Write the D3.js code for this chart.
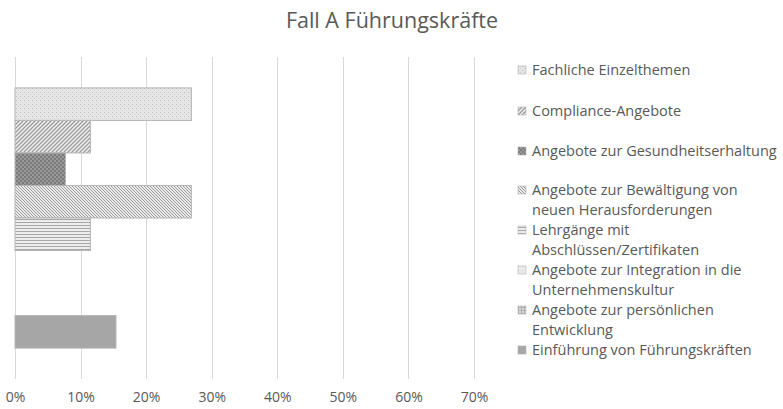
<!DOCTYPE html>
<html>
<head>
<meta charset="utf-8">
<script src="https://cdn.jsdelivr.net/npm/d3@7"></script>
<style>
  body { margin: 0; background: #fff; }
  svg { display: block; font-family: "Open Sans", "DejaVu Sans", sans-serif; }
</style>
</head>
<body>
<div class="graph"></div>
<script>
"use strict";

var categories = [
    "Fachliche Einzelthemen",
    "Compliance-Angebote",
    "Angebote zur Gesundheitserhaltung",
    "Angebote zur Bewältigung von neuen Herausforderungen",
    "Lehrgänge mit Abschlüssen/Zertifikaten",
    "Angebote zur Integration in die Unternehmenskultur",
    "Angebote zur persönlichen Entwicklung",
    "Einführung von Führungskräften"
];
var legendLines = [
    ["Fachliche Einzelthemen"],
    ["Compliance-Angebote"],
    ["Angebote zur Gesundheitserhaltung"],
    ["Angebote zur Bewältigung von", "neuen Herausforderungen"],
    ["Lehrgänge mit", "Abschlüssen/Zertifikaten"],
    ["Angebote zur Integration in die", "Unternehmenskultur"],
    ["Angebote zur persönlichen", "Entwicklung"],
    ["Einführung von Führungskräften"]
];
var values = [0.269, 0.115, 0.077, 0.269, 0.115, 0, 0, 0.154];
var ticks = [0, 0.1, 0.2, 0.3, 0.4, 0.5, 0.6, 0.7];

var width = 783;
var height = 409;
var plotLeft = 15, plotRight = 474, plotTop = 57, plotBottom = 379;
var textColor = "#595959";

var svg = d3.select(".graph").append("svg").attr("width", width).attr("height", height);
var defs = svg.append("defs");

// Hatch patterns, one per series
function pattern(id, size, bg, draw) {
    var p = defs.append("pattern").attr("id", id).attr("patternUnits", "userSpaceOnUse")
        .attr("width", size).attr("height", size);
    p.append("rect").attr("width", size).attr("height", size).attr("fill", bg);
    draw(p);
}
pattern("p0", 4, "#e6e6e6", function (p) {
    p.append("rect").attr("x", 0).attr("y", 0).attr("width", 1).attr("height", 1).attr("fill", "#bdbdbd");
    p.append("rect").attr("x", 2).attr("y", 2).attr("width", 1).attr("height", 1).attr("fill", "#cfcfcf");
});
pattern("p1", 4, "#f2f2f2", function (p) {
    p.append("path").attr("d", "M-1,1 L1,-1 M0,4 L4,0 M3,5 L5,3").attr("stroke", "#9a9a9a").attr("stroke-width", 1.3);
});
pattern("p2", 4, "#9a9a9a", function (p) {
    p.append("rect").attr("x", 0).attr("y", 0).attr("width", 2).attr("height", 2).attr("fill", "#7a7a7a");
    p.append("rect").attr("x", 2).attr("y", 2).attr("width", 2).attr("height", 2).attr("fill", "#7a7a7a");
});
pattern("p3", 3, "#ececec", function (p) {
    p.append("path").attr("d", "M-1,-1 L4,4 M-1,2 L1,4 M2,-1 L4,1").attr("stroke", "#9a9a9a").attr("stroke-width", 1);
});
pattern("p4", 3, "#ededed", function (p) {
    p.append("rect").attr("x", 0).attr("y", 0).attr("width", 3).attr("height", 1).attr("fill", "#a8a8a8");
});
pattern("p5", 4, "#ebebeb", function (p) {
    p.append("rect").attr("x", 0).attr("y", 0).attr("width", 1).attr("height", 1).attr("fill", "#d0d0d0");
});
pattern("p6", 3, "#dcdcdc", function (p) {
    p.append("rect").attr("x", 0).attr("y", 0).attr("width", 1).attr("height", 3).attr("fill", "#b0b0b0");
    p.append("rect").attr("x", 0).attr("y", 0).attr("width", 3).attr("height", 1).attr("fill", "#b0b0b0");
});
pattern("p7", 4, "#a6a6a6", function () {});

var xScale = d3.scaleLinear().domain([0, 0.7]).range([plotLeft, plotRight]);
var yScale = d3.scaleBand().domain(categories).range([plotTop, plotBottom]).paddingOuter(0.95).paddingInner(0);

// Title
svg.append("text").attr("x", 392).attr("y", 28).attr("text-anchor", "middle")
    .attr("font-size", "21.5px").attr("fill", textColor).text("Fall A Führungskräfte");

// Gridlines
svg.append("g").selectAll("line").data(ticks).enter().append("line")
    .attr("x1", function (d) { return Math.round(xScale(d)) + 0.5; })
    .attr("x2", function (d) { return Math.round(xScale(d)) + 0.5; })
    .attr("y1", plotTop).attr("y2", plotBottom)
    .attr("stroke", "#d9d9d9").attr("stroke-width", 1);

// Bars
svg.append("g").selectAll("rect").data(values).enter().append("rect")
    .attr("x", xScale(0))
    .attr("y", function (_, i) { return yScale(categories[i]); })
    .attr("width", function (d) { return xScale(d) - xScale(0); })
    .attr("height", yScale.bandwidth())
    .attr("fill", function (_, i) { return "url(#p" + i + ")"; })
    .attr("stroke", function (d) { return d > 0 ? "#b5b5b5" : "none"; })
    .attr("stroke-width", 1);

// X axis
var axis = d3.axisBottom(xScale).tickValues(ticks).tickFormat(d3.format(".0%")).tickSize(0).tickPadding(0);
var axisG = svg.append("g").attr("transform", "translate(0," + 389 + ")").call(axis);
axisG.select(".domain").remove();
axisG.selectAll("text").attr("font-size", "14px").attr("fill", textColor)
    .attr("font-family", "\"Open Sans\", sans-serif").attr("dy", "0.9em");

// Legend
var legendY = [70, 111, 151, 190, 230, 270, 310, 350];
var legend = svg.append("g").selectAll("g").data(legendLines).enter().append("g")
    .attr("transform", function (_, i) { return "translate(518," + legendY[i] + ")"; });
legend.append("rect").attr("x", 0).attr("y", -4).attr("width", 8).attr("height", 8)
    .attr("fill", function (_, i) { return "url(#p" + i + ")"; })
    .attr("stroke", "#b0b0b0").attr("stroke-width", 0.6);
legend.each(function (lines) {
    var g = d3.select(this);
    lines.forEach(function (line, j) {
        g.append("text").attr("x", 14).attr("y", j * 20).attr("dy", "0.35em")
            .attr("font-size", "14.5px").attr("fill", textColor).text(line);
    });
});
</script>
</body>
</html>
